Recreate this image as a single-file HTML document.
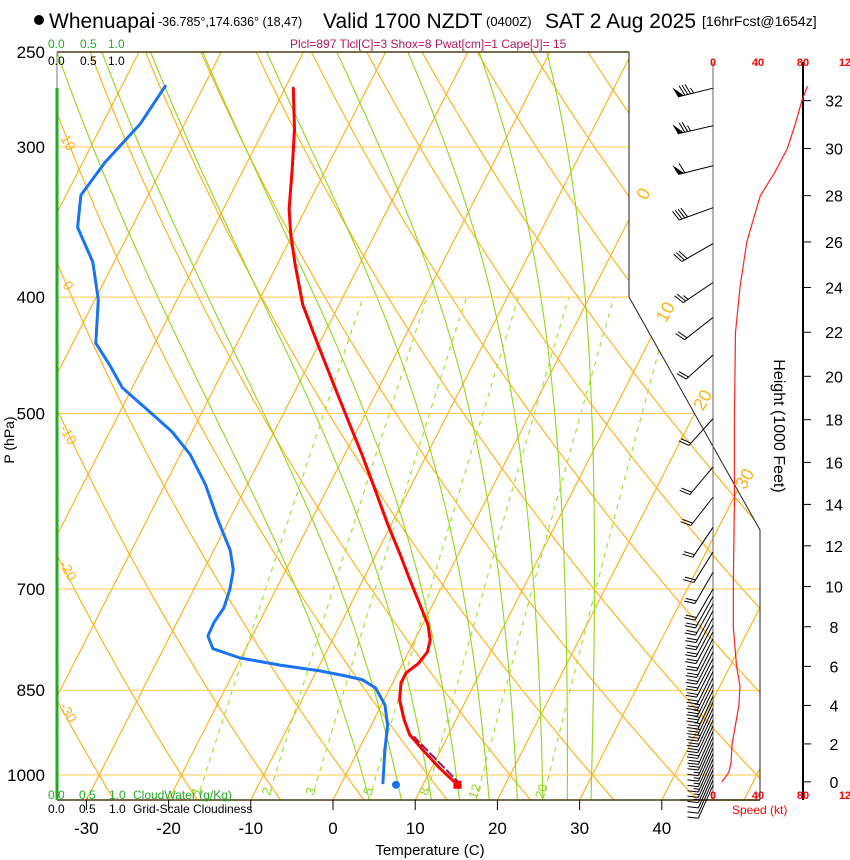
<!DOCTYPE html>
<html><head><meta charset="utf-8"><style>
html,body{margin:0;padding:0;background:#fff;}
svg{display:block;font-family:"Liberation Sans",Arial,sans-serif;}
</style></head><body>
<svg id="chart" width="850" height="860" viewBox="0 0 850 860" xmlns="http://www.w3.org/2000/svg">
<defs><clipPath id="plotclip"><polygon points="57,52 629,52 629,297 760,530 760,800 57,800"/></clipPath></defs>
<rect x="0" y="0" width="850" height="860" fill="#fff"/>
<g>
<circle cx="39" cy="20" r="5" fill="#000"/>
<text x="49" y="28" font-size="21" fill="#000">Whenuapai</text>
<text x="158" y="26" font-size="12.5" fill="#000">-36.785°,174.636° (18,47)</text>
<text x="323" y="28" font-size="21" fill="#000">Valid 1700 NZDT</text>
<text x="486" y="26" font-size="13" fill="#000">(0400Z)</text>
<text x="545" y="28" font-size="21" fill="#000">SAT 2 Aug 2025</text>
<text x="702" y="26" font-size="14" fill="#000">[16hrFcst@1654z]</text>
</g>
<text x="290" y="48" font-size="12" fill="#b0185c">Plcl=897 Tlcl[C]=3 Shox=8 Pwat[cm]=1 Cape[J]= 15</text>
<g id="bg" clip-path="url(#plotclip)"></g>
<g id="fg"></g>
</svg>
<script>
// ---- data ----
const tempP = [1019,987,957,926,900,866,838,822,808,790,772,750,722,688,656,619,579,541,506,473,438,406,376,355,338,313,290,268];
const tempT = [14.2,11.0,8.2,5.3,3.7,1.9,1.0,1.0,1.9,2.3,1.9,0.7,-1.5,-4.3,-7.0,-10.4,-14.1,-17.9,-21.8,-25.7,-30.1,-34.4,-37.8,-40.2,-42.0,-44.1,-46.3,-49.0];
const dewP = [1015,953,909,874,846,833,827,819,810,799,785,766,746,726,701,675,650,613,573,541,518,497,476,456,437,402,374,350,329,309,287,267];
const dewT = [5.0,3.2,2.0,0.4,-1.8,-3.9,-6.2,-9.6,-14.8,-20.1,-24.0,-25.4,-25.5,-25.2,-25.6,-26.4,-28.0,-31.4,-35.1,-38.8,-42.4,-46.7,-51.2,-54.1,-57.2,-59.6,-62.6,-66.6,-68.2,-67.3,-65.4,-64.7];
const parcelP = [1019,930];
const parcelT = [14.6,6.0];
const speedHeightKft = [0,0.5,1,2,3,4,5,6,8,10,14,18,22,24,26,27,28,29,30,31,32,32.6];
const speedKt = [8,14,16,17,20,23,24,21,18,18,19,19,20,24,30,36,42,55,66,73,79,84];
const barbP = [268,288,311,337,361,389,416,447,505,554,587,622,652,678,700,710,720,730,740,750,760,770,780,790,800,810,820,830,840,850,860,870,880,890,900,910,920,930,940,950,960,970,980,990,1000,1010,1020];
const barbDir = [256,257,256,250,240,236,232,228,222,220,218,214,212,210,210,209,209,208,208,208,208,207,207,207,207,207,206,206,206,206,205,205,205,205,205,205,204,204,204,204,204,204,204,204,204,204,204];
const pLevels = [250,300,400,500,700,850,1000];
const tTicks = [-30,-20,-10,0,10,20,30,40];
const heightTicks = [0,2,4,6,8,10,12,14,16,18,20,22,24,26,28,30,32];
const mixRatios = [1,2,3,5,8,12,20];
const moist500T = [-38.5,-32.4,-26.2,-20.1,-13.5,-7.3,-1.9,3.0,7.5];
const isoLabels = [0,10,20,30];
const dryLabels = [10,0,-10,-20,-30];
const speedTicks = [0,40,80,120];

// ---- axis functions ----
const NS="http://www.w3.org/2000/svg";
function yP(p){return 775-521.6*Math.log(1000/p);}
function xT(T,p){return 333+8.22*T+0.51*(800-yP(p));}
function hToP(kft){const m=kft*1000/3.28084;return 1013.25*Math.pow(1-2.25577e-5*m,5.25588);}
function pToH(p){return (1-Math.pow(p/1013.25,1/5.25588))/2.25577e-5*3.28084/1000;}
function interp(xs,ys,x){for(let i=0;i<xs.length-1;i++){if(x>=xs[i]&&x<=xs[i+1]){const f=(x-xs[i])/(xs[i+1]-xs[i]);return ys[i]+f*(ys[i+1]-ys[i]);}}return x<xs[0]?ys[0]:ys[ys.length-1];}
function mk(tag,attrs,parent){const e=document.createElementNS(NS,tag);for(const k in attrs)e.setAttribute(k,attrs[k]);parent.appendChild(e);return e;}
function pathFrom(pts){return pts.map((q,i)=>(i?'L':'M')+q[0].toFixed(1)+','+q[1].toFixed(1)).join(' ');}
const bg=document.getElementById('bg'), fg=document.getElementById('fg');
const ORANGE='#ffb21f', GREEN='#8fd61c';

// isotherms
for(let T=-120;T<=50;T+=10){
  const l=mk('line',{x1:xT(T,1060),y1:yP(1060),x2:xT(T,245),y2:yP(245),stroke:ORANGE,'stroke-width':1.2},bg);
  
  
}
// dry adiabats
for(let th=-50;th<=200;th+=10){
  const pts=[];for(let p=1060;p>=245;p-=10){const T=(th+273.15)*Math.pow(p/1000,0.286)-273.15;pts.push([xT(T,p),yP(p)]);}
  const e=mk('path',{d:pathFrom(pts),fill:'none',stroke:ORANGE,'stroke-width':1.2},bg);
  
  
}
// moist adiabats (anchored at 500 hPa)
function moistPath(T0){
  function step(T,p,dp){const Tk=T+273.15;const es=6.112*Math.exp(17.67*T/(T+243.5));const rs=0.622*es/(p-es);
    const dTdp=(287*Tk+2.5e6*rs)/(p*(1005+2.5e6*2.5e6*rs*0.622/(287*Tk*Tk)));return T+dTdp*dp;}
  const up=[],down=[];let T=T0;
  for(let p=500;p>=245;p-=2){up.push([xT(T,p),yP(p)]);T=step(T,p,-2);}
  T=T0;for(let p=500;p<=1060;p+=2){down.unshift([xT(T,p),yP(p)]);T=step(T,p,2);}
  return down.concat(up);
}
moist500T.forEach(T0=>{
  const e=mk('path',{d:pathFrom(moistPath(T0)),fill:'none',stroke:GREEN,'stroke-width':1.1},bg);
  
  
});
// mixing ratio lines
function tdFromW(w,p){const e=w*p/(622+w);const a=Math.log(e/6.112);return 243.5*a/(17.67-a);}
mixRatios.forEach(w=>{
  const pts=[];for(let p=1030;p>=400;p-=10)pts.push([xT(tdFromW(w,p),p),yP(p)]);
  const e=mk('path',{d:pathFrom(pts),fill:'none',stroke:'#a6e03a','stroke-width':1.2,'stroke-dasharray':'5,5'},bg);
  
  
  const lp=1027,lx=xT(tdFromW(w,lp),lp),ly=yP(lp)+4;
  const t=mk('text',{x:lx,y:ly,'font-size':13,fill:'#8fd61c','text-anchor':'middle',transform:`rotate(-70 ${lx} ${ly})`},bg);
  t.textContent=w;
  
  
});
// pressure lines
pLevels.forEach(p=>{
  const l=mk('line',{x1:57,x2:760,y1:yP(p),y2:yP(p),stroke:'#ffc94d','stroke-width':1},bg);
  
  
  const t=mk('text',{x:45,y:yP(p)+6,'font-size':17,'text-anchor':'end',fill:'#000'},fg);
  t.textContent=p;
  
  
});
// frame
mk('polyline',{points:'629,52 629,297 760,530 760,800',fill:'none',stroke:'#222','stroke-width':1},fg);
mk('line',{x1:57,y1:52,x2:629,y2:52,stroke:'#4a3c10','stroke-width':1.5},fg);
mk('line',{x1:57,y1:800,x2:760,y2:800,stroke:'#4a3c10','stroke-width':1.5},fg);
mk('line',{x1:57,y1:52,x2:57,y2:800,stroke:'#777','stroke-width':1},fg);
mk('line',{x1:57,y1:88,x2:57,y2:800,stroke:'#22aa22','stroke-width':3},fg);
// isotherm labels
isoLabels.forEach(T=>{
  const pL={0:330,10:414,20:490,30:570}[T];
  const x=xT(T,pL)+8,y=yP(pL);
  const t=mk('text',{x:x,y:y,'font-size':18,fill:ORANGE,'text-anchor':'middle',transform:`rotate(-60 ${x} ${y})`},fg);
  t.textContent=T;
  
  
});
// dry adiabat labels
dryLabels.forEach((th,i)=>{
  const ys=[145,288,437,573,715][i];
  const t=mk('text',{x:64,y:ys,'font-size':14,fill:ORANGE,'text-anchor':'middle',transform:`rotate(60 64 ${ys})`},fg);
  t.textContent=th;
  
  
});
// temperature ticks
tTicks.forEach(T=>{
  const x=333+8.22*T;
  mk('line',{x1:x,x2:x,y1:800,y2:810,stroke:'#000'},fg);
  const t=mk('text',{x:x,y:834,'font-size':17,'text-anchor':'middle',fill:'#000'},fg);
  t.textContent=T;
  
  
});
// series
function series(P,T,color,w,name,dash){
  const pts=P.map((p,i)=>[xT(T[i],p),yP(p)]);
  const e=mk('path',{d:pathFrom(pts),fill:'none',stroke:color,'stroke-width':w,'stroke-linejoin':'round','stroke-linecap':'round'},fg);
  if(dash)e.setAttribute('stroke-dasharray',dash);
  
  
}
series(parcelP,parcelT,'#8b1a6b',2,'parcel-path','8,4');
series(tempP,tempT,'#ff0000',3,'temperature-line');
series(dewP,dewT,'#1a73f0',3,'dewpoint-line');
const sd=mk('rect',{x:xT(tempT[0],tempP[0])-4,y:yP(tempP[0])-4,width:8,height:8,fill:'#ff0000'},fg);


const bd=mk('circle',{cx:396,cy:yP(tempP[0]),r:4,fill:'#1a73f0'},fg);


// right panel axes
mk('line',{x1:713,y1:62,x2:713,y2:800,stroke:'#666','stroke-width':1},fg);
mk('line',{x1:803,y1:62,x2:803,y2:800,stroke:'#000','stroke-width':2},fg);
mk('line',{x1:680,y1:800,x2:760,y2:800,stroke:'#4a3c10','stroke-width':1.5},fg);
mk('line',{x1:760,y1:530,x2:760,y2:800,stroke:'#222','stroke-width':1},fg);
speedTicks.forEach(s=>{
  const x=713+1.125*s;
  [62,795].forEach(y=>{const t=mk('text',{x:x,y:y+4,'font-size':11,'font-weight':'bold','text-anchor':'middle',fill:'#ff0000'},fg);t.textContent=s;
    
    });
});
heightTicks.forEach(h=>{
  const y=yP(hToP(h));
  mk('line',{x1:803,x2:811,y1:y,y2:y,stroke:'#000'},fg);
  const t=mk('text',{x:834,y:y+6,'font-size':16,'text-anchor':'middle',fill:'#000'},fg);
  t.textContent=h;
  
  
});
// speed profile
const sp=speedHeightKft.map((h,i)=>[713+1.125*speedKt[i],yP(hToP(h))]);
const spe=mk('path',{d:pathFrom(sp),fill:'none',stroke:'#ff2020','stroke-width':1.2},fg);


// wind barbs
barbP.forEach((p,i)=>{
  const d=barbDir[i]*Math.PI/180, s=interp(speedHeightKft,speedKt,pToH(p));
  const ux=Math.sin(d),uy=-Math.cos(d),L=36,bx=713,by=yP(p);
  const tx=bx+L*ux,ty=by+L*uy;
  const g=mk('g',{},fg);
  
  
  mk('line',{x1:bx,y1:by,x2:tx,y2:ty,stroke:'#000','stroke-width':1},g);
  const px=-uy,py=ux; let fx=px*0.95+ux*0.3, fy=py*0.95+uy*0.3;
  let rem=Math.round(s/5)*5, pos=0;
  while(rem>=50){const ax=tx-ux*pos,ay=ty-uy*pos,cx=tx-ux*(pos+6),cy=ty-uy*(pos+6);
    mk('polygon',{points:`${ax},${ay} ${ax+fx*11},${ay+fy*11} ${cx},${cy}`,fill:'#000'},g);pos+=7;rem-=50;}
  while(rem>=10){const ax=tx-ux*pos,ay=ty-uy*pos;mk('line',{x1:ax,y1:ay,x2:ax+fx*11,y2:ay+fy*11,stroke:'#000','stroke-width':1},g);pos+=3;rem-=10;}
  if(rem>=5){if(pos===0)pos=3;const ax=tx-ux*pos,ay=ty-uy*pos;mk('line',{x1:ax,y1:ay,x2:ax+fx*6,y2:ay+fy*6,stroke:'#000','stroke-width':1},g);}
});
</script>
<svg style="position:absolute;left:0;top:0" width="850" height="860">
<text x="48" y="48" font-size="12" fill="#22aa22" font-family="Liberation Sans">0.0</text>
<text x="80" y="48" font-size="12" fill="#22aa22" font-family="Liberation Sans">0.5</text>
<text x="108" y="48" font-size="12" fill="#22aa22" font-family="Liberation Sans">1.0</text>
<text x="48" y="65" font-size="12" fill="#000" font-family="Liberation Sans">0.0</text>
<text x="80" y="65" font-size="12" fill="#000" font-family="Liberation Sans">0.5</text>
<text x="108" y="65" font-size="12" fill="#000" font-family="Liberation Sans">1.0</text>
<text x="48" y="799" font-size="12" fill="#22aa22" font-family="Liberation Sans">0.0</text>
<text x="79" y="799" font-size="12" fill="#22aa22" font-family="Liberation Sans">0.5</text>
<text x="109" y="799" font-size="12" fill="#22aa22" font-family="Liberation Sans">1.0</text>
<text x="133" y="799" font-size="12" fill="#22aa22" font-family="Liberation Sans">CloudWater (g/Kg)</text>
<text x="48" y="813" font-size="12" fill="#000" font-family="Liberation Sans">0.0</text>
<text x="79" y="813" font-size="12" fill="#000" font-family="Liberation Sans">0.5</text>
<text x="109" y="813" font-size="12" fill="#000" font-family="Liberation Sans">1.0</text>
<text x="133" y="813" font-size="12" fill="#000" font-family="Liberation Sans">Grid-Scale Cloudiness</text>
<text x="430" y="855" font-size="15" text-anchor="middle" fill="#000" font-family="Liberation Sans">Temperature (C)</text>
<text x="14" y="440" font-size="14" text-anchor="middle" fill="#000" font-family="Liberation Sans" transform="rotate(-90 14 440)">P (hPa)</text>
<text x="774" y="426" font-size="16" text-anchor="middle" fill="#000" font-family="Liberation Sans" transform="rotate(90 774 426)">Height (1000 Feet)</text>
<text x="732" y="814" font-size="12" fill="#ff0000" font-family="Liberation Sans">Speed (kt)</text>
</svg>
</body></html>
